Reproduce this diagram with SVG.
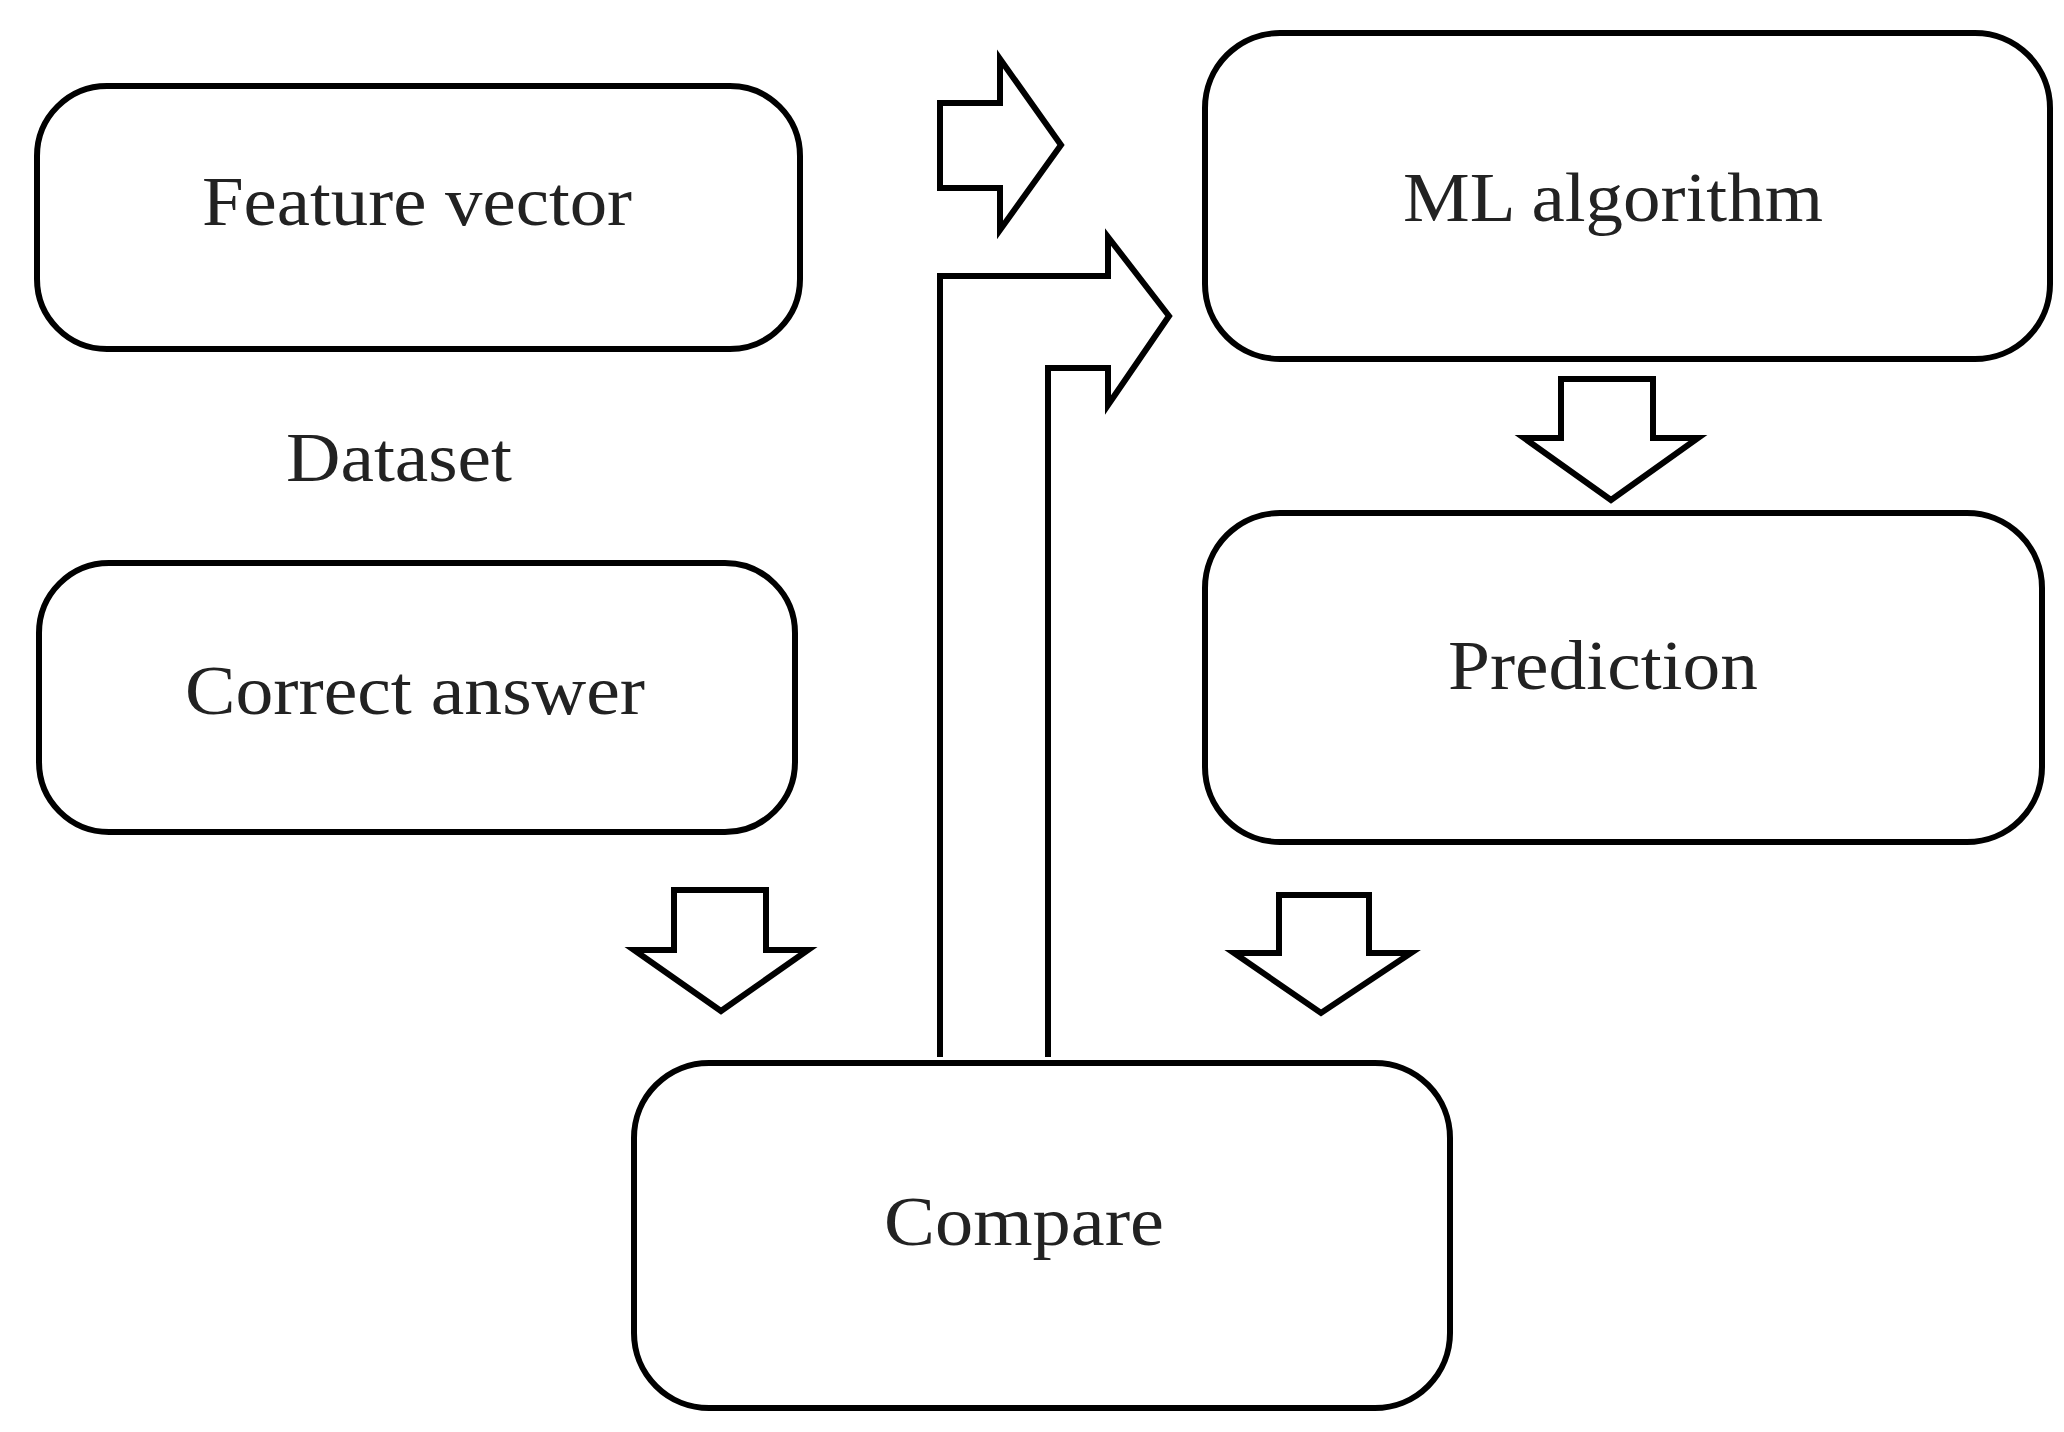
<svg xmlns="http://www.w3.org/2000/svg" width="2064" height="1432" viewBox="0 0 2064 1432">
<style>
.box{fill:#fff;stroke:#000;stroke-width:6}
.arr{fill:#fff;stroke:#000;stroke-width:6;stroke-linejoin:miter}
text{font-family:"Liberation Serif","DejaVu Serif",serif;font-size:70px;fill:#222;text-anchor:middle;dominant-baseline:central}
</style>
<rect width="2064" height="1432" fill="#fff"/>
<g id="feature"><rect class="box" x="37" y="86" width="763" height="263" rx="70"/><text x="417" y="201" textLength="430" lengthAdjust="spacingAndGlyphs">Feature vector</text></g>
<g id="dataset"><text x="399" y="457" textLength="226" lengthAdjust="spacingAndGlyphs">Dataset</text></g>
<g id="correct"><rect class="box" x="39" y="563" width="756" height="269" rx="70"/><text x="415" y="690" textLength="460" lengthAdjust="spacingAndGlyphs">Correct answer</text></g>
<g id="ml"><rect class="box" x="1205" y="33" width="845" height="326" rx="75"/><text x="1613" y="197" textLength="420" lengthAdjust="spacingAndGlyphs">ML algorithm</text></g>
<g id="prediction"><rect class="box" x="1205" y="513" width="837" height="329" rx="75"/><text x="1603" y="665" textLength="310" lengthAdjust="spacingAndGlyphs">Prediction</text></g>
<g id="compare"><rect class="box" x="634" y="1063" width="816" height="345" rx="75"/><text x="1024" y="1221" textLength="280" lengthAdjust="spacingAndGlyphs">Compare</text></g>
<g id="connectors">
<polygon class="arr" points="940,103 1000,103 1000,59 1061,145 1000,230 1000,188 940,188"/>
<polyline class="arr" points="940,1057 940,276 1108,276 1108,237 1169,316 1108,405 1108,368 1048,368 1048,1057"/>
<polygon class="arr" points="1561,379 1653,379 1653,438 1698,438 1611,500 1524,438 1561,438"/>
<polygon class="arr" points="674,890 766,890 766,950 808,950 721,1011 634,950 674,950"/>
<polygon class="arr" points="1279,895 1369,895 1369,953 1411,953 1321,1013 1234,953 1279,953"/>
</g>
</svg>
